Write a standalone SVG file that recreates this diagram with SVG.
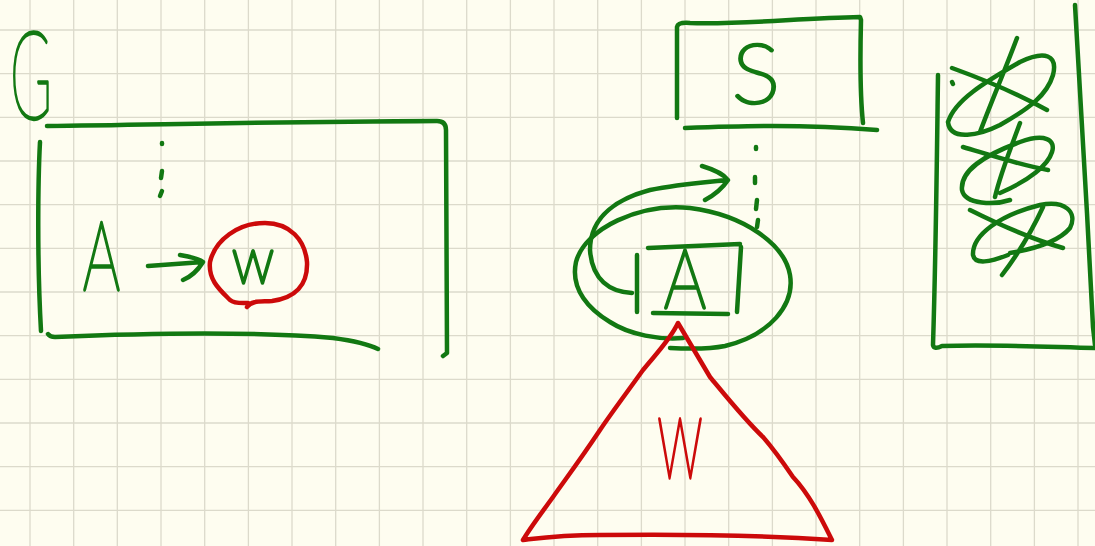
<svg xmlns="http://www.w3.org/2000/svg" width="1095" height="546" viewBox="0 0 1095 546">
<style>
.g{fill:none;stroke:#127812;stroke-width:4.5;stroke-linecap:round;stroke-linejoin:round}
.r{fill:none;stroke:#cc0a0a;stroke-width:4.5;stroke-linecap:round;stroke-linejoin:round}
.grid{fill:none;stroke:#dcdacb;stroke-width:1.3}
.tg{fill:#127812;stroke:#127812;stroke-width:3.5;stroke-linejoin:round;font-family:Lato,"DejaVu Sans",sans-serif;font-weight:100}
.tr{fill:#cc0a0a;stroke:#cc0a0a;stroke-width:3.5;stroke-linejoin:round;font-family:Lato,"DejaVu Sans",sans-serif;font-weight:100}
</style>
<rect width="1095" height="546" fill="#fefdf0"/>
<path class="grid" d="M30 0V546M73.7 0V546M117.3 0V546M161 0V546M204.7 0V546M248.4 0V546M292 0V546M335.7 0V546M379.4 0V546M423 0V546M466.7 0V546M510.4 0V546M554 0V546M597.7 0V546M641.4 0V546M685 0V546M728.7 0V546M772.4 0V546M816 0V546M859.7 0V546M903.4 0V546M947 0V546M990.7 0V546M1034.4 0V546M1078 0V546M0 30H1095M0 73.7H1095M0 117.3H1095M0 161H1095M0 204.7H1095M0 248.4H1095M0 292H1095M0 335.7H1095M0 379.4H1095M0 423H1095M0 466.7H1095M0 510.4H1095"/>
<g id="frame-G">
<text class="tg" x="10" y="119" font-size="122" textLength="42" lengthAdjust="spacingAndGlyphs">G</text>
<path class="g" d="M47 126C150 125 250 122 437 121Q446 121 446 130L447 353L443 356"/>
<path class="g" d="M40 142C38 180 37 260 41 331"/>
<path class="g" d="M48 334Q50 337 55 337C150 333 250 331 333 338C355 341 368 344 378 349"/>
</g>
<g id="node-A-left">
<text class="tg" x="83" y="290" font-size="97" textLength="37" lengthAdjust="spacingAndGlyphs">A</text>
</g>
<g id="node-w-left">
<path class="r" d="M247 307C252 300 262 302 272 301C295 298 308 285 307 262C305 240 290 223 265 223C238 223 215 240 210 262C208 280 220 290 230 300C235 304 242 303 248 303"/>
<text class="tg" x="232" y="283" font-size="65" textLength="42" lengthAdjust="spacingAndGlyphs">w</text>
</g>
<g id="node-S">
<path class="g" d="M677 118L677 27Q678 22 690 23C740 25 800 18 860 17L861 20C860 60 860 95 863 123"/>
<path class="g" d="M685 128C740 126 800 124 877 130"/>
<text class="tg" x="732" y="103" font-size="83" textLength="48" lengthAdjust="spacingAndGlyphs">S</text>
</g>
<g id="node-A-right">
<path class="g" d="M670 348C690 349 710 349 725 346C770 335 795 305 790 275C785 245 745 215 690 208C640 203 585 228 576 262C570 290 590 310 610 322C630 335 660 340 683 338"/>
<path class="g" d="M637 255L637 312M648 248L740 244M741 247L737 312M653 313L728 314"/>
<text class="tg" x="664" y="308" font-size="83" textLength="42" lengthAdjust="spacingAndGlyphs">A</text>
</g>
<g id="node-w-triangle">
<path class="r" d="M678 323C670 340 655 355 643 370C625 395 610 415 600 430C580 460 565 480 553 497C540 515 530 528 523 540C540 538 560 535 600 535C680 534 760 535 832 540C822 520 810 495 793 477C780 458 770 445 763 437C745 420 725 395 710 377C700 360 688 340 678 323Z"/>
<text class="tr" x="657" y="478" font-size="120" textLength="46" lengthAdjust="spacingAndGlyphs">w</text>
</g>
<g id="node-crossed-stack">
<path class="g" d="M938 75C937 150 936 250 933 345Q934 350 942 346C990 344 1050 347 1095 348"/>
<path class="g" d="M1075 5C1080 100 1088 220 1093 327L1095 345"/>
<path class="g" d="M952 82l1 2"/>
<path class="g" d="M948 122C955 100 985 82 1020 62C1045 50 1058 55 1053 75C1047 95 1030 108 1000 125C980 135 950 142 948 122M952 68C985 80 1020 95 1047 110M1017 38C1005 70 990 105 980 132"/>
<path class="g" d="M1010 200C995 205 965 205 962 190C960 170 985 155 1020 142C1045 133 1056 140 1052 152C1048 165 1030 180 1000 193M963 147C990 155 1020 165 1048 170M1020 123C1010 150 1000 175 995 197"/>
<path class="g" d="M1008 255C990 262 975 265 973 255C972 235 1000 215 1040 205C1065 200 1078 212 1070 228C1060 240 1040 248 1010 253M970 210C1000 225 1035 240 1063 248M1043 207C1030 235 1015 258 1002 275"/>
</g>
<g id="connectors">
<path class="g" d="M162 143l0 1M162 171l-1 7M162 191l-2 5"/>
<path class="g" d="M148 266L203 262M180 255Q198 258 203 262Q195 275 183 280"/>
<path class="g" d="M756 147l0 2M755 177l0 6M757 200l-1 9M758 220l-1 7"/>
<path class="g" d="M632 293C610 292 592 280 590 250C590 215 620 198 650 190C680 184 710 182 727 180M702 166Q722 172 728 180Q720 192 705 200"/>
</g>
</svg>
